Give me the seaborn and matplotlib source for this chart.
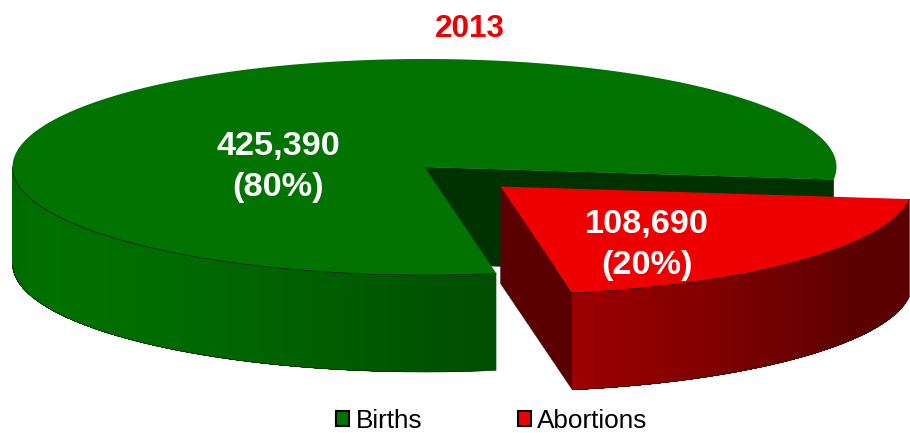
import numpy as np
import seaborn as sns
import matplotlib.pyplot as plt
from matplotlib.patches import Patch

# Datele graficului
title = '2013'
categories = ['Births', 'Abortions']
values = [425390, 108690]
percents = [80, 20]

sns.set_theme(style='white')
plt.rcParams['font.family'] = ['Liberation Sans', 'DejaVu Sans']

top_colors = ['#007300', '#ee0000']
wall_colors = ['#003200', '#5a0000']
side_green = sns.blend_palette(['#004e00', '#005f00', '#006c00', '#007000', '#006a00'], 60)
side_red = sns.blend_palette(['#5a0000', '#5c0000', '#7a0000', '#9c0000'], 60)

# Geometria (pixeli)
cx, cy = 424.5, 167
rx, ry = 412, 108
depth = 97
dx, dy = 76, 19.5
t_start = 6.7

fig, ax = plt.subplots(figsize=(9.10, 4.33), dpi=100)
fig.subplots_adjust(0, 0, 1, 1)
ax.set_xlim(0, 910)
ax.set_ylim(433, 0)
ax.axis('off')

frac_red = values[1] / sum(values)
t_end = t_start + frac_red * 360


def arc(t1, t2, ox=0, oy=0, n=200):
    t = np.radians(np.linspace(t1, t2, n))
    return cx + ox + rx * np.cos(t), cy + oy + ry * np.sin(t)


def draw_side(t1, t2, palette, ox=0, oy=0):
    # fiecare banda acopera tot restul arcului, ca sa nu apara dungi intre segmente
    steps = np.linspace(t1, t2, len(palette) + 1)
    for i, col in enumerate(palette):
        x, y = arc(steps[i], t2, ox, oy, 200)
        ax.fill(np.r_[x, x[::-1]], np.r_[y, y[::-1] + depth], color=col, lw=0, zorder=2)
    x, y = arc(t1, t2, ox, oy)
    ax.plot(x, y + depth, color='#1a1a1a', lw=0.4, zorder=3)


def draw_wall(t, col, ox=0, oy=0):
    x, y = arc(t, t, ox, oy, 1)
    px = [cx + ox, x[0], x[0], cx + ox]
    py = [cy + oy, y[0], y[0] + depth, cy + oy + depth]
    ax.fill(px, py, facecolor=col, edgecolor='#1a1a1a', lw=0.3, zorder=2)


def draw_top(t1, t2, col, front, ox=0, oy=0):
    x, y = arc(t1, t2, ox, oy)
    ax.fill(np.r_[cx + ox, x], np.r_[cy + oy, y], facecolor=col, lw=0, zorder=3)
    # linie inchisa doar pe marginea din fata
    x, y = arc(front[0], front[1], ox, oy)
    ax.plot(x, y, color='#1a1a1a', lw=0.5, zorder=4)


# Births
draw_wall(t_start, wall_colors[0])
draw_side(t_end, 180, side_green)
draw_top(t_end, t_start + 360, top_colors[0], (t_end, 180))

# Abortions, felie scoasa in afara
draw_wall(t_end, wall_colors[1], dx, dy)
draw_side(t_start, t_end, side_red, dx, dy)
draw_top(t_start, t_end, top_colors[1], (t_start, t_end), dx, dy)

# Etichete
label_pos = [(278, 167), (647, 245)]
for v, p, (lx, ly) in zip(values, percents, label_pos):
    ax.text(lx, ly, f'{v:,}\n({p}%)', color='white', fontsize=24.7, fontweight='bold',
            ha='center', va='center', linespacing=1.43, zorder=5)

ax.text(469.5, 29, title, color='#ee0000', fontsize=22.7, fontweight='bold', ha='center', va='center')

handles = [Patch(facecolor=c, edgecolor='black', lw=1.5) for c in ['#007300', '#ee0000']]
ax.legend(handles, categories, ncol=2, frameon=False, fontsize=18.8, loc='center',
          bbox_to_anchor=(492, 420.5), bbox_transform=ax.transData, handlelength=0.5, handleheight=0.5,
          handletextpad=0.25, columnspacing=3.65, labelcolor='black', borderpad=0, borderaxespad=0)

fig.savefig('out.png', dpi=100)
